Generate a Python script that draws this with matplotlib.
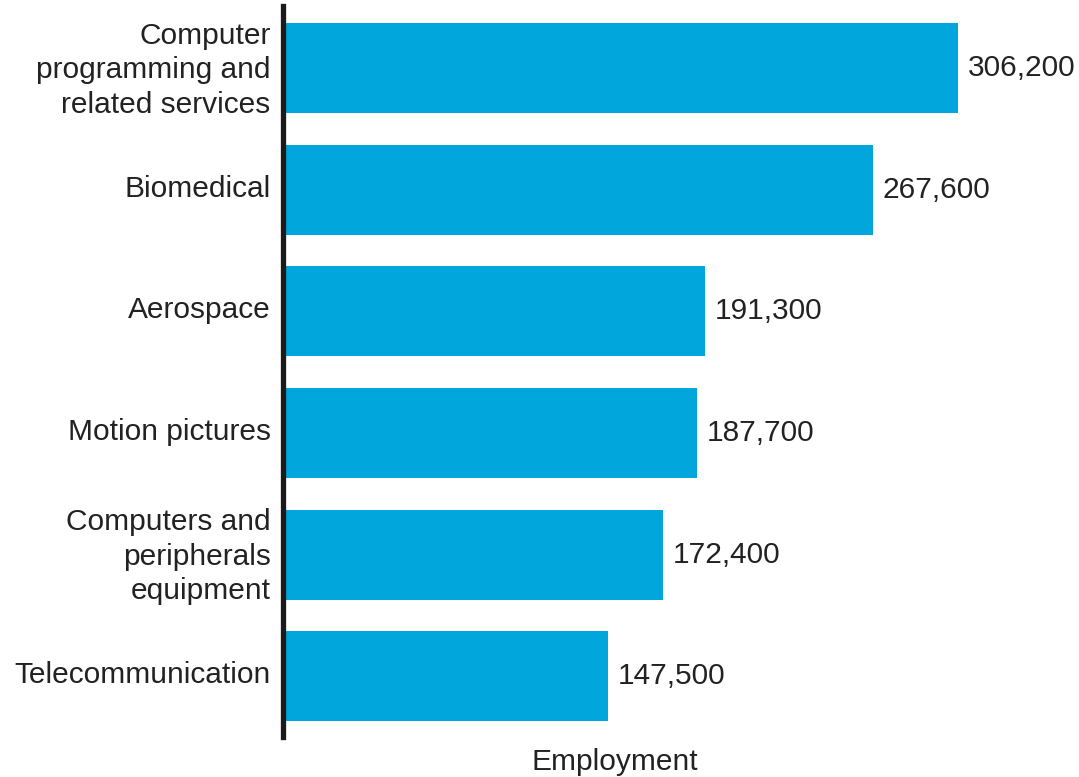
import matplotlib
matplotlib.use("Agg")
import matplotlib.pyplot as plt
import matplotlib.transforms as mtransforms

categories = [
    "Computer\nprogramming and\nrelated services",
    "Biomedical",
    "Aerospace",
    "Motion pictures",
    "Computers and\nperipherals\nequipment",
    "Telecommunication",
]
values = [306200, 267600, 191300, 187700, 172400, 147500]
value_labels = ["306,200", "267,600", "191,300", "187,700", "172,400", "147,500"]

plt.rcParams['font.family'] = ['Liberation Sans', 'DejaVu Sans']

W, H = 1079, 777
fig = plt.figure(figsize=(W / 100, H / 100), dpi=100)
ax = fig.add_axes([283 / W, (H - 737) / H, (1075 - 283) / W, 731 / H])

FS = 21.5
y = list(range(len(categories)))
ax.barh(y, values, height=0.74, color="#00A6DC", zorder=2)
ax.set_ylim(5.5, -0.51)
ax.set_xlim(0, 792 / 0.0022044)

for yi, v, lab in zip(y, values, value_labels):
    ax.annotate(lab, (v, yi), xytext=(10, 0), textcoords="offset pixels",
                ha="left", va="center", fontsize=FS, color="#222222")

ax.set_yticks(y)
ax.set_yticklabels(categories, fontsize=FS, color="#222222", linespacing=1.3)
ax.tick_params(axis="y", length=0, pad=9)
ax.set_xticks([])

shift = mtransforms.ScaledTranslation(0, 4 / 100, fig.dpi_scale_trans)
for t in ax.get_yticklabels():
    t.set_transform(t.get_transform() + shift)

for s in ["top", "right", "bottom"]:
    ax.spines[s].set_visible(False)
ax.spines["left"].set_linewidth(3.8)
ax.spines["left"].set_color("#1a1a1a")
ax.spines["left"].set_zorder(3)

ax.set_xlabel("Employment", fontsize=FS, color="#222222", va="center")
ax.xaxis.set_label_coords((615 - 283) / 792, -25 / 731)

fig.savefig("out.png", dpi=100)
